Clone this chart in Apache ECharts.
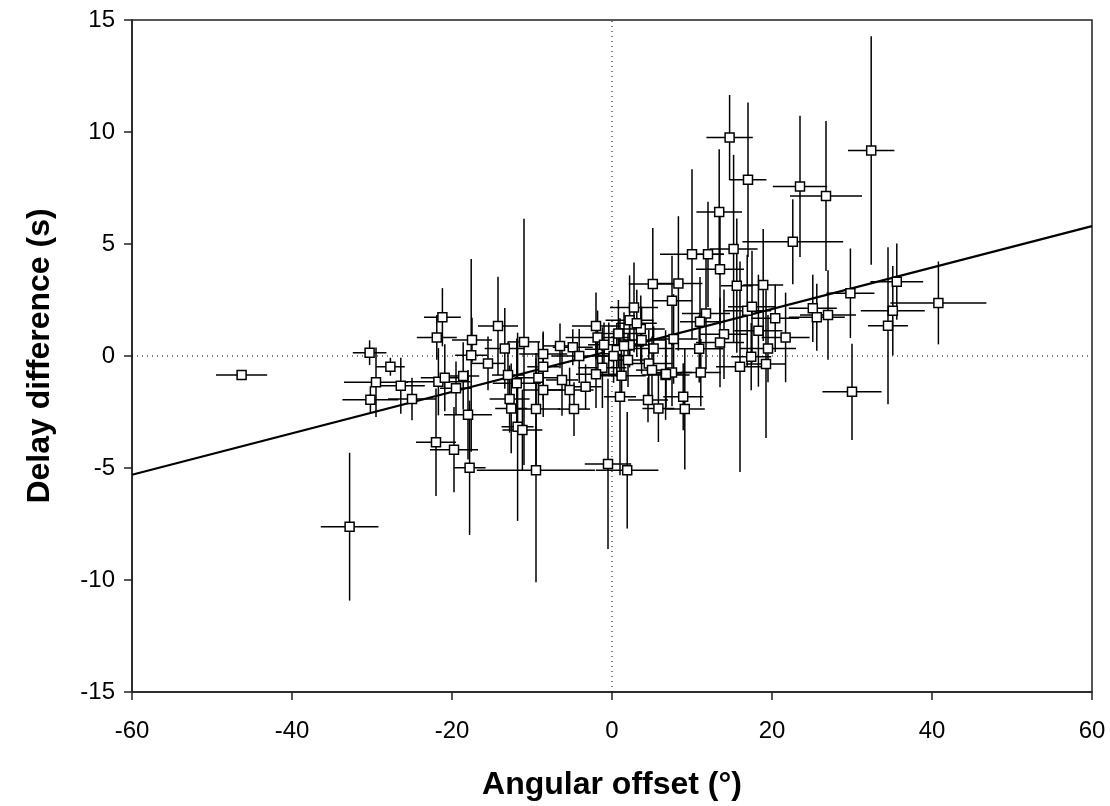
<!DOCTYPE html>
<html>
<head>
<meta charset="utf-8">
<script src="https://cdn.jsdelivr.net/npm/echarts@6/dist/echarts.min.js"></script>
<style>html,body{margin:0;padding:0;background:#fff}#c{width:1110px;height:806px}</style>
</head>
<body>
<div id="c"></div>
<script>
// Angular offset (deg), delay difference (s), and symmetric errors
var xs = [-46.3,-30.3,-27.7,-29.5,-26.4,-30.2,-25.0,-32.8,-21.2,-21.9,-17.5,-17.6,-14.25,-15.5,-13.4,-11.0,-13.0,-11.9,-12.8,-12.6,-9.5,-11.8,-11.2,-18.0,-22.0,-19.75,-21.7,-20.9,-19.5,-18.6,-8.6,-8.6,-9.2,-8.6,-6.5,-4.9,-4.1,-6.25,-5.3,-3.3,-4.75,-2.0,-1.8,-1.2,-2.0,-0.4,1.0,2.75,2.2,3.6,2.2,4.6,5.1,6.7,4.5,5.8,1.2,5.2,3.7,-17.8,-9.5,-0.5,1.9,14.7,17.0,32.4,23.5,26.75,13.4,22.6,10.0,12.0,15.2,13.5,8.3,15.6,18.9,29.8,35.6,40.8,35.1,34.5,11.75,11.0,16.9,17.5,20.4,25.1,25.6,27.0,14.0,13.5,18.3,21.7,7.7,10.9,19.5,17.4,19.25,16.0,11.1,7.5,5.0,8.9,9.1,30.0,7.5,6.75,0.8,3.1,2.0,0.6,1.5,-1.0,0.2];
var ys = [-0.85,0.15,-0.48,-1.17,-1.33,-1.95,-1.92,-7.62,1.73,0.83,0.71,0.03,1.34,-0.33,0.34,0.63,-0.85,-1.22,-1.92,-2.34,-2.37,-3.16,-3.3,-2.62,-3.85,-4.18,-1.15,-0.97,-1.44,-0.89,0.09,-0.48,-0.97,-1.52,0.45,0.39,0.0,-1.07,-1.52,-1.37,-2.37,1.34,0.83,-0.52,-0.82,0.3,-1.82,2.17,1.6,1.2,0.49,-0.33,3.21,-0.85,-1.96,-2.34,-0.88,0.33,0.71,-4.99,-5.1,-4.82,-5.1,9.75,7.87,9.17,7.57,7.14,6.43,5.1,4.54,4.54,4.78,3.87,3.24,3.14,3.17,2.8,3.32,2.37,2.02,1.35,1.9,1.53,2.02,2.2,1.68,2.13,1.73,1.83,0.97,0.6,1.13,0.83,0.76,0.32,0.33,-0.03,-0.36,-0.48,-0.74,-0.74,-0.63,-1.82,-2.37,-1.6,2.47,-0.8,1.0,1.46,-0.18,0.27,0.45,0.5,0.0];
var xErr = [3.2,2.1,1.8,4.0,3.0,3.5,3.0,3.6,2.3,2.5,2.5,2.0,2.5,2.0,2.5,2.0,2.0,3.0,2.5,2.0,3.0,2.0,2.5,3.0,2.5,3.0,4.0,3.0,2.0,2.0,3.0,2.0,3.0,2.5,2.0,2.5,3.5,2.0,3.0,2.0,2.0,3.0,4.0,3.0,2.5,3.0,2.0,3.0,3.0,3.0,3.0,3.0,3.0,3.0,2.5,2.0,3.0,2.5,3.0,2.0,7.4,2.9,3.9,2.9,2.3,2.9,3.4,4.5,2.85,6.3,4.0,2.0,3.0,3.0,3.0,2.0,2.5,3.0,3.3,6.0,4.0,2.5,3.0,2.5,3.0,3.0,3.0,3.0,3.5,3.5,3.0,3.0,3.0,3.0,3.0,3.0,3.5,2.5,2.5,3.0,2.5,2.5,2.0,2.5,2.5,3.7,2.5,2.0,3.0,2.5,2.5,2.0,2.5,2.0,2.0];
var yErr = [0.2,0.55,0.4,1.55,1.25,0.6,0.95,3.3,1.3,1.0,1.0,4.3,2.2,1.2,1.8,5.5,1.5,2.0,1.5,2.0,2.5,4.2,1.8,2.0,2.4,1.9,1.5,1.5,1.2,1.5,1.0,1.5,1.6,1.2,1.0,0.8,1.2,1.6,1.0,1.0,1.2,1.5,1.2,1.8,1.5,1.2,3.5,2.0,2.0,1.5,1.0,1.5,2.5,2.0,1.0,1.5,1.0,1.0,1.5,3.0,5.0,3.8,2.6,1.9,3.45,5.1,3.15,3.35,2.8,1.9,3.8,2.35,4.2,2.5,3.0,3.0,2.5,2.0,1.7,1.85,2.0,3.5,2.5,2.0,2.5,2.5,1.5,1.5,1.5,2.0,2.0,2.0,2.5,2.0,2.0,1.5,1.5,1.5,3.3,4.7,1.5,1.5,1.5,1.5,2.7,2.15,2.0,1.5,1.5,1.5,1.2,1.2,1.5,1.0,1.2];
// Regression line end points
var fitX = [-60, 60];
var fitY = [-5.3, 5.8];
var xTicks = [-60,-40,-20,0,20,40,60];
var yTicks = [-15,-10,-5,0,5,10,15];

var pts = xs.map(function(x,i){return [x, ys[i], xErr[i], yErr[i]];});
var chart = echarts.init(document.getElementById('c'), null, {renderer:'canvas'});
var font = 'Liberation Sans, Arial, sans-serif';
chart.setOption({
  animation:false,
  backgroundColor:'#fff',
  grid:{left:132,right:18,top:20,bottom:114,show:true,borderColor:'#222',borderWidth:1.5,backgroundColor:'transparent'},
  xAxis:{type:'value',min:xTicks[0],max:xTicks[xTicks.length-1],interval:20,
    name:'Angular offset (°)',nameLocation:'middle',nameGap:77,
    nameTextStyle:{fontFamily:font,fontSize:32,fontWeight:'bold',color:'#000'},
    axisLine:{onZero:false,lineStyle:{color:'#222',width:1.5}},
    axisTick:{inside:false,length:8,lineStyle:{color:'#222',width:1.5}},
    axisLabel:{fontFamily:font,fontSize:24,color:'#000',margin:27},
    splitLine:{show:false}},
  yAxis:{type:'value',min:yTicks[0],max:yTicks[yTicks.length-1],interval:5,
    name:'Delay difference (s)',nameLocation:'middle',nameGap:76,
    nameTextStyle:{fontFamily:font,fontSize:32,fontWeight:'bold',color:'#000'},
    axisLine:{onZero:false,lineStyle:{color:'#222',width:1.5}},
    axisTick:{inside:false,length:8,lineStyle:{color:'#222',width:1.5}},
    axisLabel:{fontFamily:font,fontSize:24,color:'#000',margin:17},
    splitLine:{show:false}},
  series:[
    {type:'line',data:[[0,yTicks[0]],[0,yTicks[yTicks.length-1]]],symbol:'none',silent:true,
      lineStyle:{color:'#000',width:1,type:[1,4]},z:1},
    {type:'line',data:[[xTicks[0],0],[xTicks[xTicks.length-1],0]],symbol:'none',silent:true,
      lineStyle:{color:'#000',width:1,type:[1,4]},z:1},
    {type:'custom',data:pts,z:2,
      renderItem:function(params,api){
        var x=api.value(0),y=api.value(1),ex=api.value(2),ey=api.value(3);
        var a=api.coord([x-ex,y]),b=api.coord([x+ex,y]);
        var c=api.coord([x,y-ey]),d=api.coord([x,y+ey]);
        return {type:'group',children:[
          {type:'line',shape:{x1:a[0],y1:a[1],x2:b[0],y2:b[1]},style:{stroke:'#000',lineWidth:1.5}},
          {type:'line',shape:{x1:c[0],y1:c[1],x2:d[0],y2:d[1]},style:{stroke:'#000',lineWidth:1.5}}
        ]};
      }},
    {type:'line',data:fitX.map(function(x,i){return [x,fitY[i]];}),symbol:'none',
      lineStyle:{color:'#000',width:2.2},z:3},
    {type:'scatter',data:pts.map(function(p){return [p[0],p[1]];}),symbol:'rect',symbolSize:9,
      itemStyle:{color:'#fff',borderColor:'#000',borderWidth:1.5,opacity:1},z:4}
  ]
});
</script>
</body>
</html>
